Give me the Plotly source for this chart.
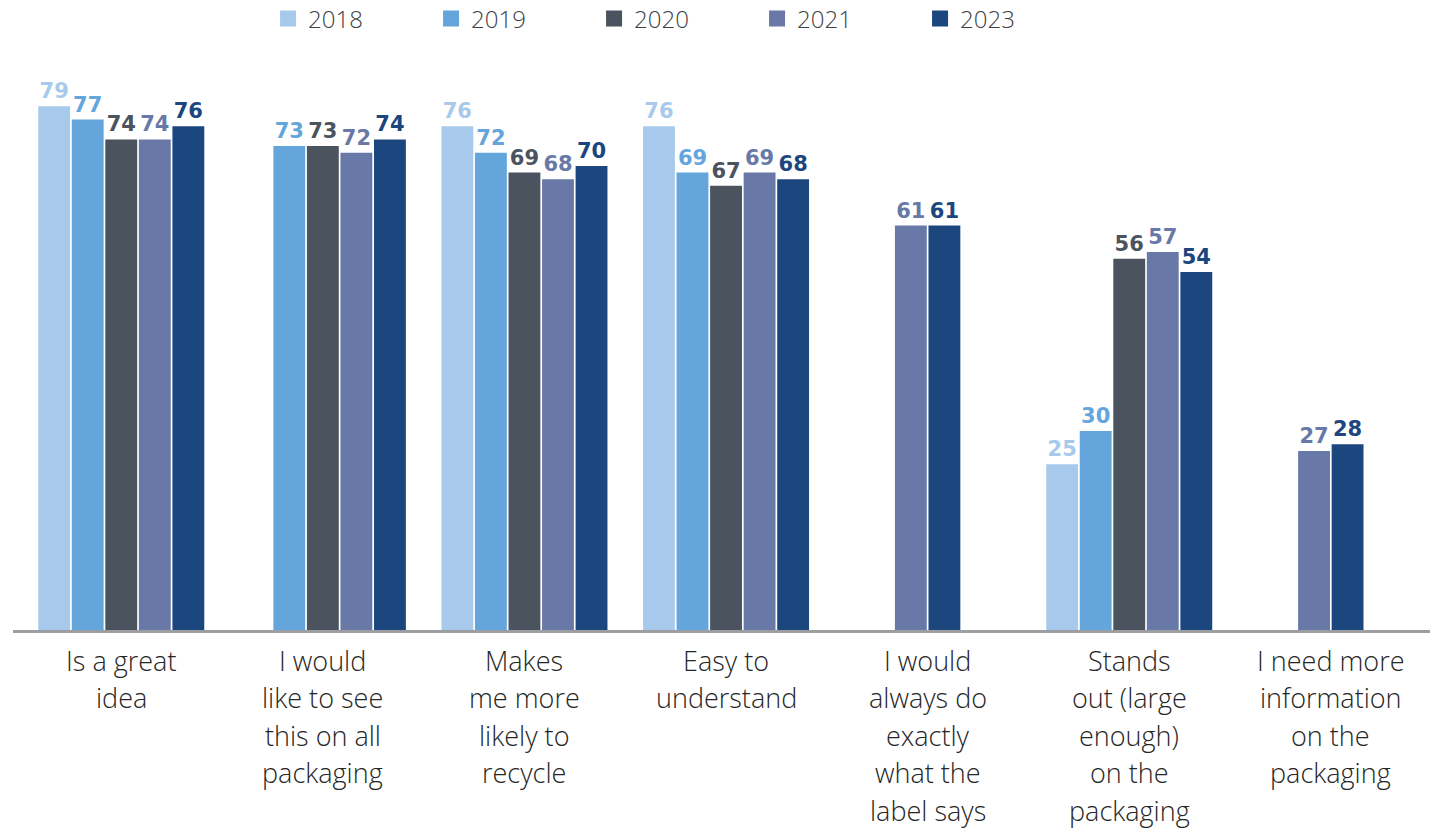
import plotly.graph_objects as go

# Survey statements (x categories) and the share agreeing per survey year
categories = [
    "Is a great<br>idea",
    "I would<br>like to see<br>this on all<br>packaging",
    "Makes<br>me more<br>likely to<br>recycle",
    "Easy to<br>understand",
    "I would<br>always do<br>exactly<br>what the<br>label says",
    "Stands<br>out (large<br>enough)<br>on the<br>packaging",
    "I need more<br>information<br>on the<br>packaging",
]
years = ["2018", "2019", "2020", "2021", "2023"]

v2018 = [79, None, 76, 76, None, 25, None]
v2019 = [77, 73, 72, 69, None, 30, None]
v2020 = [74, 73, 69, 67, None, 56, None]
v2021 = [74, 72, 68, 69, 61, 57, 27]
v2023 = [76, 74, 70, 68, 61, 54, 28]

colors = ["#A7CAEC", "#64A5DC", "#4B535E", "#6979A7", "#1B467E"]

series = [v2018, v2019, v2020, v2021, v2023]

# Bar geometry in category units
pitch = 0.1664
bar_w = 0.158

# Statements only asked in recent waves are centred within their slot;
# the others keep one slot per year, even when a year is missing.
n_cat = len(categories)
offsets = [[None] * n_cat for _ in series]
for c in range(n_cat):
    present = [s for s in range(len(series)) if series[s][c] is not None]
    slots = present if len(present) <= 2 else list(range(len(series)))
    n = len(slots)
    for k, s in enumerate(slots):
        offsets[s][c] = (k - n / 2) * pitch + (pitch - bar_w) / 2

x_pos = list(range(n_cat))

fig = go.Figure()
for s, (yr, vals, col) in enumerate(zip(years, series, colors)):
    offs = [o if o is not None else 0 for o in offsets[s]]
    fig.add_trace(go.Bar(
        name=yr,
        x=x_pos,
        y=vals,
        width=[bar_w] * n_cat,
        offset=offs,
        marker=dict(color=col, line=dict(width=0)),
        text=["" if v is None else str(v) for v in vals],
        textposition="outside",
        textfont=dict(family="DejaVu Sans", size=21, color=col, weight="bold"),
        cliponaxis=False,
        constraintext="none",
        hoverinfo="skip",
        showlegend=False,
        legendgroup=yr,
    ))

# Legend keys: larger square swatches than the default bar key
for yr, col in zip(years, colors):
    fig.add_trace(go.Scatter(
        name=yr,
        x=[None], y=[None],
        mode="markers",
        marker=dict(symbol="square", size=16, color=col),
        legendgroup=yr,
        hoverinfo="skip",
    ))

# Category labels below the axis, one text line at a time for a looser
# line pitch than tick labels allow
line_pitch = 37.5
first_line = 30
label_font = dict(family="Open Sans", size=27, color="#262626", weight=300)
annotations = []
for i, cat in enumerate(categories):
    for j, line in enumerate(cat.split("<br>")):
        annotations.append(dict(
            x=i, xref="x", y=0, yref="y",
            text=line, showarrow=False,
            xanchor="center", yanchor="middle",
            yshift=-(first_line + line_pitch * j),
            font=label_font,
        ))

fig.update_layout(
    width=1435,
    height=830,
    barmode="overlay",
    plot_bgcolor="white",
    paper_bgcolor="white",
    margin=dict(l=13, r=5, t=80, b=200, autoexpand=False),
    font=dict(family="Open Sans", color="#262626"),
    showlegend=True,
    annotations=annotations,
    legend=dict(
        orientation="h",
        x=0.18,
        xanchor="left",
        y=1.111,
        yanchor="middle",
        entrywidth=118,
        font=dict(family="Open Sans", size=24, color="#3D4247", weight=300),
        traceorder="normal",
        bgcolor="rgba(0,0,0,0)",
    ),
    xaxis=dict(
        type="linear",
        range=[-0.537, 6.492],
        showline=True,
        linecolor="#9C9EA2",
        linewidth=3,
        ticks="",
        showticklabels=False,
        showgrid=False,
        zeroline=False,
    ),
    yaxis=dict(
        range=[0, 82.96],
        visible=False,
        showgrid=False,
        zeroline=False,
    ),
)

fig.write_html("out.html")
